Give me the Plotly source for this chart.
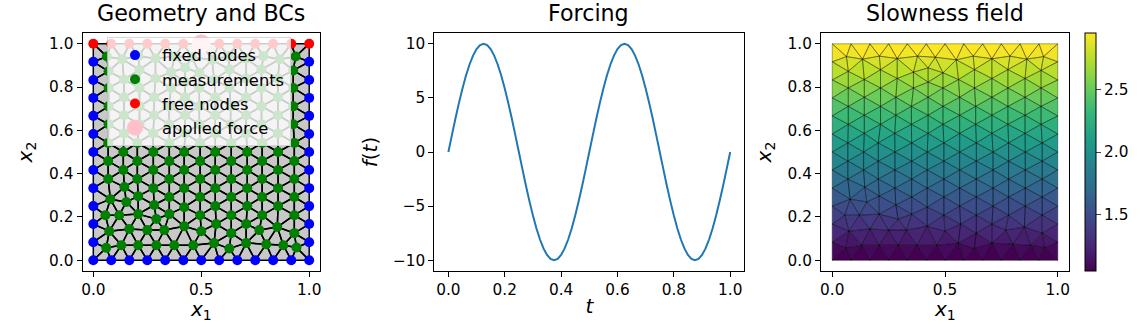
import numpy as np
import plotly.graph_objects as go
import plotly.colors as pc

# ---------- data ----------
edge_positions = [0.0, 0.083, 0.167, 0.25, 0.333, 0.417, 0.5, 0.583, 0.667, 0.75, 0.833, 0.917, 1.0]

odd_x = [0.069, 0.204, 0.352, 0.495, 0.639, 0.782, 0.931]
even_x = [0.139, 0.278, 0.421, 0.565, 0.713, 0.856]

interior_rows = [
    # low irregular rows
    [(.060,.057),(.130,.069),(.208,.069),(.292,.069),(.375,.069),(.463,.069),(.559,.079),(.630,.054),(.708,.079),(.801,.074),(.880,.069),(.941,.059)],
    [(.074,.134),(.167,.144),(.250,.139),(.329,.139),(.421,.157),(.500,.134),(.569,.167),(.639,.125),(.708,.167),(.769,.139),(.852,.153),(.931,.125)],
    [(.056,.208),(.120,.208),(.208,.213),(.292,.190),(.352,.213),(.495,.208),(.639,.208),(.782,.208),(.931,.208)],
    [(.079,.282),(.153,.269),(.282,.255),(.421,.245),(.565,.250),(.713,.250),(.856,.250)],
    [(.208,.296),(.352,.292),(.495,.292),(.639,.292),(.782,.292),(.931,.292)],
    [(.144,.338),(.278,.333),(.421,.333),(.565,.333),(.713,.333),(.856,.333)],
    # regular staggered rows
    [(x,.375) for x in odd_x],
    [(x,.417) for x in even_x],
    [(x,.458) for x in odd_x],
    [(x,.500) for x in even_x],
    [(x,.542) for x in odd_x],
    [(.142,.586),(.277,.586),(.425,.586),(.565,.586),(.708,.586),(.855,.586)],
    [(.071,.628),(.214,.628),(.351,.628),(.491,.628),(.636,.628),(.779,.628),(.926,.628)],
    [(.142,.670),(.282,.670),(.425,.670),(.565,.670),(.708,.670),(.855,.670)],
    [(.071,.711),(.214,.711),(.351,.711),(.491,.711),(.636,.711),(.779,.711),(.926,.711)],
    [(.142,.753),(.282,.753),(.425,.753),(.565,.753),(.708,.753),(.855,.753)],
    [(.071,.796),(.214,.796),(.360,.796),(.491,.796),(.631,.796),(.779,.796),(.926,.796)],
    [(.142,.835),(.288,.840),(.425,.823),(.560,.835),(.708,.840),(.855,.840)],
    [(.071,.873),(.214,.880),(.360,.869),(.425,.889),(.491,.866),(.631,.881),(.779,.881),(.926,.877)],
    [(.063,.941),(.134,.929),(.209,.943),(.288,.932),(.378,.943),(.457,.938),(.550,.926),(.625,.943),(.708,.931),(.788,.943),(.863,.929),(.937,.941)],
]

force_point_x = [0.5]
force_point_y = [1.0]

forcing_t = [0.0,0.0125,0.025,0.0375,0.05,0.0625,0.075,0.0875,0.1,0.1125,0.125,0.1375,0.15,0.1625,0.175,0.1875,0.2,0.2125,0.225,0.2375,
             0.25,0.2625,0.275,0.2875,0.3,0.3125,0.325,0.3375,0.35,0.3625,0.375,0.3875,0.4,0.4125,0.425,0.4375,0.45,0.4625,0.475,0.4875,
             0.5,0.5125,0.525,0.5375,0.55,0.5625,0.575,0.5875,0.6,0.6125,0.625,0.6375,0.65,0.6625,0.675,0.6875,0.7,0.7125,0.725,0.7375,
             0.75,0.7625,0.775,0.7875,0.8,0.8125,0.825,0.8375,0.85,0.8625,0.875,0.8875,0.9,0.9125,0.925,0.9375,0.95,0.9625,0.975,0.9875,1.0]
forcing_f = [0.0,1.56,3.09,4.54,5.88,7.07,8.09,8.91,9.51,9.88,10.0,9.88,9.51,8.91,8.09,7.07,5.88,4.54,3.09,1.56,
             0.0,-1.56,-3.09,-4.54,-5.88,-7.07,-8.09,-8.91,-9.51,-9.88,-10.0,-9.88,-9.51,-8.91,-8.09,-7.07,-5.88,-4.54,-3.09,-1.56,
             0.0,1.56,3.09,4.54,5.88,7.07,8.09,8.91,9.51,9.88,10.0,9.88,9.51,8.91,8.09,7.07,5.88,4.54,3.09,1.56,
             0.0,-1.56,-3.09,-4.54,-5.88,-7.07,-8.09,-8.91,-9.51,-9.88,-10.0,-9.88,-9.51,-8.91,-8.09,-7.07,-5.88,-4.54,-3.09,-1.56,0.0]

slowness_heights = [0.0, 0.25, 0.5, 0.75, 1.0]
slowness_levels = [1.0, 1.5, 2.0, 2.5, 3.0]
colorbar_ticks = [1.5, 2.0, 2.5]
colorbar_range = [1.05, 2.95]

# ---------- mesh construction ----------
FONT = "DejaVu Sans"
fixed = [(p, 0.0) for p in edge_positions] + \
        [(0.0, p) for p in edge_positions[1:-1]] + [(1.0, p) for p in edge_positions[1:-1]]
free = [(p, 1.0) for p in edge_positions]
inner = [pt for row in interior_rows for pt in row]
pts = np.array(fixed + free + inner, dtype=float)


def delaunay(points):
    n = len(points)
    P = np.vstack([points, [[-10, -10], [12, -10], [0.5, 14]]])
    tris = [(n, n + 1, n + 2)]

    def in_circle(t, p):
        a, b, c = P[t[0]], P[t[1]], P[t[2]]
        m = np.array([[a[0]-p[0], a[1]-p[1], (a[0]-p[0])**2+(a[1]-p[1])**2],
                      [b[0]-p[0], b[1]-p[1], (b[0]-p[0])**2+(b[1]-p[1])**2],
                      [c[0]-p[0], c[1]-p[1], (c[0]-p[0])**2+(c[1]-p[1])**2]])
        d = np.linalg.det(m)
        o = (b[0]-a[0])*(c[1]-a[1]) - (b[1]-a[1])*(c[0]-a[0])
        return d * o > 1e-14

    for i in range(n):
        p = P[i]
        bad = [t for t in tris if in_circle(t, p)]
        edges = {}
        for t in bad:
            for e in ((t[0], t[1]), (t[1], t[2]), (t[2], t[0])):
                k = tuple(sorted(e))
                edges[k] = edges.get(k, 0) + 1
        tris = [t for t in tris if t not in bad]
        for (u, v), c in edges.items():
            if c == 1:
                tris.append((u, v, i))
    out = []
    for t in tris:
        if max(t) >= n:
            continue
        a, b, c = P[t[0]], P[t[1]], P[t[2]]
        if abs((b[0]-a[0])*(c[1]-a[1]) - (b[1]-a[1])*(c[0]-a[0])) > 1e-6:
            out.append(t)
    return out


triangles = delaunay(pts)


def outline(ts):
    xs, ys = [], []
    for t in ts:
        for i in (t[0], t[1], t[2], t[0]):
            xs.append(float(pts[i, 0]))
            ys.append(float(pts[i, 1]))
        xs.append(None)
        ys.append(None)
    return xs, ys


centroid_x = [float(pts[list(t), 0].mean()) for t in triangles]
centroid_y = [float(pts[list(t), 1].mean()) for t in triangles]
tri_values = np.interp(centroid_y, slowness_heights, slowness_levels)

# ---------- figure ----------
W, H = 1146, 327
fig = go.Figure()

mx, my = outline(triangles)
fig.add_trace(go.Scatter(x=mx, y=my, mode="lines", fill="toself", fillcolor="#c8c8c8",
                         line=dict(color="black", width=1.5), showlegend=False, hoverinfo="skip",
                         xaxis="x", yaxis="y"))


def nodes(xy, color, name, size=10):
    fig.add_trace(go.Scatter(x=[p[0] for p in xy], y=[p[1] for p in xy], mode="markers",
                             marker=dict(color=color, size=size, line=dict(width=0)),
                             name=name, xaxis="x", yaxis="y", cliponaxis=False))


nodes(fixed, "#0000ff", "fixed nodes")
nodes(inner, "#008000", "measurements")
nodes(free, "#ff0000", "free nodes")
nodes(list(zip(force_point_x, force_point_y)), "#ffc0cb", "applied force", 19)

fig.add_trace(go.Scatter(x=forcing_t, y=forcing_f, mode="lines", line=dict(color="#1f77b4", width=2, simplify=False),
                         showlegend=False, xaxis="x2", yaxis="y2"))

bins = {}
for t, v in zip(triangles, tri_values):
    bins.setdefault(round(float(v), 2), []).append(t)
for v, ts in sorted(bins.items()):
    frac = float(np.clip((v - colorbar_range[0]) / (colorbar_range[1] - colorbar_range[0]), 0, 1))
    col = pc.sample_colorscale("Viridis", [frac])[0]
    bx, by = outline(ts)
    fig.add_trace(go.Scatter(x=bx, y=by, mode="lines", fill="toself", fillcolor=col, line=dict(color=col, width=0.3),
                             showlegend=False, hoverinfo="skip", xaxis="x3", yaxis="y3"))
fig.add_trace(go.Scatter(x=mx, y=my, mode="lines", line=dict(color="rgba(0,0,0,0.45)", width=0.7),
                         showlegend=False, hoverinfo="skip", xaxis="x3", yaxis="y3"))
fig.add_trace(go.Scatter(x=centroid_x, y=centroid_y, mode="markers", showlegend=False, hoverinfo="skip",
                         marker=dict(size=1, opacity=0, color=list(map(float, tri_values)), colorscale="Viridis",
                                     cmin=colorbar_range[0], cmax=colorbar_range[1],
                                     colorbar=dict(thickness=11, thicknessmode="pixels", len=238/H, lenmode="fraction",
                                                   x=1085/W, xanchor="left", xpad=0, y=1-33/H, yanchor="top", ypad=0,
                                                   tickvals=colorbar_ticks, ticktext=["1.5", "2.0", "2.5"], ticks="outside",
                                                   ticklen=5, tickwidth=1, outlinecolor="black", outlinewidth=1,
                                                   tickfont=dict(family=FONT, size=15.3, color="black"))),
                         xaxis="x3", yaxis="y3"))


def axis(dom, rng, title, anchor, ticks, labels, standoff):
    ax = dict(domain=dom, range=rng, anchor=anchor, showgrid=False, zeroline=False, showline=True, mirror=True,
              linecolor="black", linewidth=1, ticks="outside", ticklen=5, tickwidth=1, tickcolor="black",
              tickvals=ticks, ticktext=labels, automargin=False,
              tickfont=dict(family=FONT, size=15.3, color="black"))
    if title:
        ax["title"] = dict(text=title, font=dict(family=FONT, size=20, color="black"), standoff=standoff)
    return ax


t5 = [0, 0.5, 1.0]
t6 = [0, 0.2, 0.4, 0.6, 0.8, 1.0]
l6 = ["0.0", "0.2", "0.4", "0.6", "0.8", "1.0"]
yd = [1 - 271/H, 1 - 33/H]
x1 = "<i>x</i><sub>1</sub>"
x2 = "<i>x</i><sub>2</sub>"

titles = [dict(text=t, x=c/W, y=1-27/H, xref="paper", yref="paper", xanchor="center", yanchor="bottom", showarrow=False,
               font=dict(family=FONT, size=22.2, color="black"), borderpad=0)
          for t, c in [("Geometry and BCs", 201), ("Forcing", 588), ("Slowness field", 945)]]
x_labels = [dict(text=x1, x=c/W, y=1-310/H, xref="paper", yref="paper", xanchor="center", yanchor="middle", showarrow=False,
                 font=dict(family=FONT, size=20, color="black"), borderpad=0)
            for c in (201, 945)]

fig.update_layout(
    width=W, height=H, margin=dict(l=0, r=0, t=0, b=0), autosize=False,
    paper_bgcolor="white", plot_bgcolor="white", font=dict(family=FONT, color="black"),
    xaxis=axis([82.5/W, 320/W], [-0.05, 1.05], None, "y", t5, ["0.0", "0.5", "1.0"], 0),
    yaxis=axis(yd, [-0.05, 1.05], x2, "x", t6, l6, 11),
    xaxis2=axis([434.3/W, 744.3/W], [-0.05, 1.05], "<i>t</i>", "y2", t6, l6, 0),
    yaxis2=axis(yd, [-11, 11], "<i>f</i>(<i>t</i>)", "x2", [-10, -5, 0, 5, 10], ["\u221210", "\u22125", "0", "5", "10"], 9),
    xaxis3=axis([821/W, 1069/W], [-0.05, 1.05], None, "y3", t5, ["0.0", "0.5", "1.0"], 0),
    yaxis3=axis(yd, [-0.05, 1.05], x2, "x3", t6, l6, 10),
    legend=dict(x=107/W, y=1-37/H, xanchor="left", yanchor="top", bgcolor="rgba(255,255,255,0.8)",
                bordercolor="rgba(204,204,204,0.8)", borderwidth=1, font=dict(family=FONT, size=16.3, color="black"),
                itemsizing="trace", itemwidth=44, itemclick=False, itemdoubleclick=False),
    annotations=titles + x_labels,
)
fig.write_html("out.html", post_script="document.body.style.margin='0';", config=dict(displayModeBar=False))
